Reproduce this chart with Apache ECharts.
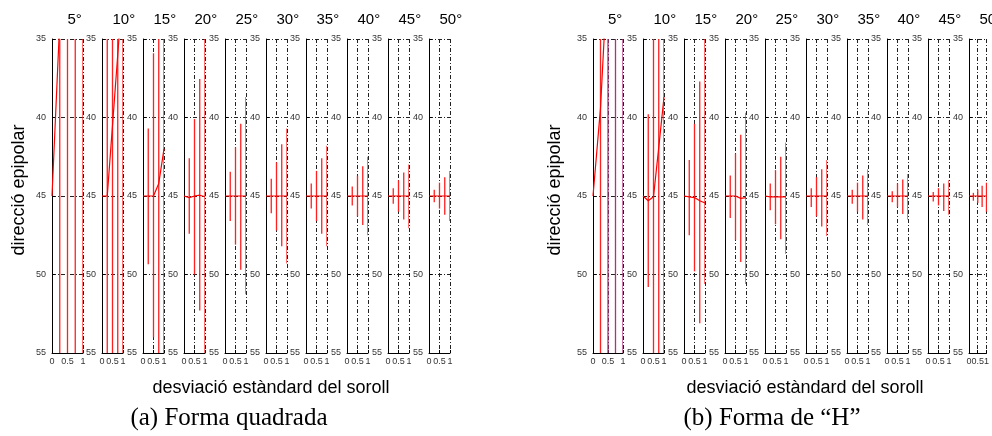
<!DOCTYPE html>
<html>
<head>
<meta charset="utf-8">
<script src="https://cdn.jsdelivr.net/npm/echarts@6/dist/echarts.min.js"></script>
<style>
html,body{margin:0;padding:0;background:#fff;}
#chart{width:992px;height:436px;}
</style>
</head>
<body>
<div id="chart"></div>
<script>
var angles = ['5°','10°','15°','20°','25°','30°','35°','40°','45°','50°'];
var noise = [0, 0.25, 0.5, 0.75, 1];

// (a) Forma quadrada : mitjana a x = 0, 0.25, 0.5, 0.75, 1
var meanA = [
    [45, 33.9, 30, 29, 28],
    [45, 45, 40.5, 36, 31.5],
    [45, 45, 45, 44.2, 42],
    [45, 45.1, 45, 44.95, 45.05],
    [45, 45, 45, 45, 45],
    [45, 45, 45, 45, 45],
    [45, 45, 45, 45, 45],
    [45, 45, 45, 45, 45],
    [45, 45, 45, 45, 45],
    [45, 45, 45, 45, 45]
];
// extrems de les barres d'error a x = 0.25, 0.5, 0.75, 1
var lowA = [
    [20, 20, 20, 20],
    [33, 30, 27, 25],
    [40.7, 35.9, 34, 33],
    [42.6, 40.1, 37.55, 34.5],
    [43.45, 41.9, 40.4, 38.7],
    [43.9, 42.85, 41.7, 40.7],
    [44.2, 43.4, 42.6, 41.8],
    [44.4, 43.7, 43.1, 42.5],
    [44.5, 44.0, 43.5, 43.0],
    [44.6, 44.15, 43.8, 43.4]
];
var highA = [
    [58, 58, 60, 60],
    [57, 58, 58, 60],
    [49.35, 54, 56, 57],
    [47.4, 50, 52.3, 56],
    [46.6, 48.1, 49.7, 51.25],
    [46.1, 47.2, 48.2, 49.3],
    [45.8, 46.6, 47.4, 48.2],
    [45.6, 46.3, 46.85, 47.5],
    [45.5, 46.0, 46.5, 47.05],
    [45.4, 45.8, 46.2, 46.6]
];

// (b) Forma de "H"
var meanB = [
    [45, 39.4, 30.2, 28, 27],
    [45, 45.3, 45.05, 41.9, 38.7],
    [45, 45.05, 45.1, 45.3, 45.45],
    [45, 45.0, 45.0, 45.15, 45.1],
    [45, 45.05, 45.05, 45.05, 45.05],
    [45, 45, 45, 45, 45],
    [45, 45, 45, 45, 45],
    [45, 45, 45, 45, 45],
    [45, 45, 45, 45, 45],
    [45, 45, 45, 45, 45]
];
var lowB = [
    [30, 25, 25, 25],
    [39.8, 33, 33, 32],
    [42.7, 40.4, 37.7, 34.5],
    [43.7, 42.3, 41.1, 39.7],
    [44.2, 43.35, 42.5, 41.6],
    [44.5, 43.8, 43.3, 42.7],
    [44.6, 44.15, 43.7, 43.3],
    [44.7, 44.2, 43.95, 43.6],
    [44.75, 44.5, 44.2, 44.0],
    [44.8, 44.6, 44.35, 44.15]
];
var highB = [
    [58, 60, 60, 60],
    [50.8, 57, 57, 58],
    [47.5, 49.8, 53.1, 50.6],
    [46.4, 47.8, 49.2, 50.6],
    [45.9, 46.8, 47.75, 48.7],
    [45.7, 46.3, 46.95, 47.55],
    [45.5, 46.0, 46.5, 46.85],
    [45.4, 45.7, 46.15, 46.5],
    [45.35, 45.6, 45.95, 46.2],
    [45.3, 45.45, 45.7, 46.0]
];

// posicio de cada subgrafic
var leftA = [52, 102, 143, 184, 225, 266, 306, 347, 388, 429];
var leftB = [593, 643, 684, 725, 765, 806, 847, 887, 928, 969];
var panels = [
    {left: leftA, firstW: 31, mean: meanA, low: lowA, high: highA, axisX: 271, caption: '(a) Forma quadrada', capX: 229, nameX: 19},
    {left: leftB, firstW: 30, mean: meanB, low: lowB, high: highB, axisX: 805, caption: '(b) Forma de \u201cH\u201d', capX: 772, nameX: 555}
];

var TOP = 39, H = 314;
var gridDash = [4, 2, 1, 2];

var grids = [], xAxes = [], yAxes = [], series = [], graphics = [];

panels.forEach(function(pn, p){
    for(var i=0;i<angles.length;i++){
        var g = p*10 + i;
        var w = i==0 ? pn.firstW : 21;
        grids.push({left: pn.left[i], top: TOP, width: w, height: H});
        xAxes.push({
            gridIndex: g, type: 'value', min: 0, max: 1, interval: 0.5,
            axisLine: {show: true, onZero: false, lineStyle: {color: '#000', width: 1}},
            axisTick: {show: true, inside: true, length: 3, lineStyle: {color: '#000'}},
            axisLabel: {fontSize: 9, color: '#333', margin: 4, fontFamily: 'Liberation Sans',
                formatter: function(v){ return String(v); }},
            splitLine: {show: true, lineStyle: {color: '#222', type: gridDash, width: 1}}
        });
        yAxes.push({
            gridIndex: g, type: 'value', min: 35, max: 55, interval: 5, inverse: true,
            axisLine: {show: true, onZero: false, lineStyle: {color: '#000', width: 1}},
            axisTick: {show: true, inside: true, length: 3, lineStyle: {color: '#000'}},
            axisLabel: {fontSize: 9, color: '#333', margin: 6, fontFamily: 'Liberation Sans'},
            splitLine: {show: true, lineStyle: {color: '#222', type: gridDash, width: 1}}
        });

        var bars = [];
        for(var k=1;k<noise.length;k++){
            bars.push([noise[k], pn.low[i][k-1], pn.high[i][k-1], p==1 && i==0 && k>=2 ? 1 : 0]);
        }
        series.push({
            type: 'custom', xAxisIndex: g, yAxisIndex: g, clip: true,
            data: bars,
            renderItem: function(params, api){
                var x = api.value(0);
                var lo = Math.max(35, api.value(1));
                var hi = Math.min(55, api.value(2));
                var p1 = api.coord([x, lo]);
                var p2 = api.coord([x, hi]);
                return {
                    type: 'line',
                    shape: {x1: p1[0], y1: p1[1], x2: p2[0], y2: p2[1]},
                    style: {stroke: api.value(3) ? '#b0307a' : '#ff2020', lineWidth: 1.3}
                };
            }
        });
        series.push({
            type: 'line', xAxisIndex: g, yAxisIndex: g, clip: true,
            symbol: 'none', silent: true,
            lineStyle: {color: '#ff0000', width: 1.2},
            data: noise.map(function(x, k){ return [x, pn.mean[i][k]]; }),
            z: 3
        });

        graphics.push({
            type: 'text', left: pn.left[i] + w/2, top: 12,
            style: {text: angles[i], fill: '#000', font: '15px "Liberation Sans"', textAlign: 'center'}
        });
    }
    graphics.push({
        type: 'text', x: pn.nameX, y: 190, rotation: Math.PI/2,
        style: {text: 'direcció epipolar', fill: '#000', font: '18px "Liberation Sans"',
            textAlign: 'center', textVerticalAlign: 'middle'}
    });
    graphics.push({
        type: 'text', x: pn.axisX, y: 388,
        style: {text: 'desviació estàndard del soroll', fill: '#000', font: '18px "Liberation Sans"',
            textAlign: 'center', textVerticalAlign: 'middle'}
    });
    graphics.push({
        type: 'text', x: pn.capX, y: 418,
        style: {text: pn.caption, fill: '#000', font: '25px "Liberation Serif"',
            textAlign: 'center', textVerticalAlign: 'middle'}
    });
});

var myChart = echarts.init(document.getElementById('chart'), null, {renderer: 'canvas'});
myChart.setOption({
    animation: false,
    backgroundColor: '#fff',
    grid: grids,
    xAxis: xAxes,
    yAxis: yAxes,
    series: series,
    graphic: graphics
});
</script>
</body>
</html>
